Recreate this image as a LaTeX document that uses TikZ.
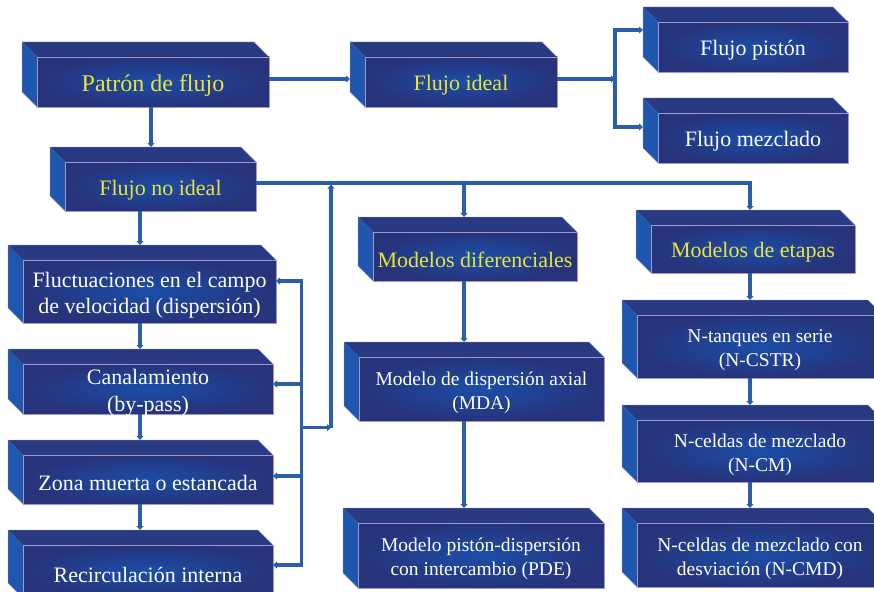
\documentclass[tikz,border=0pt]{standalone}
\usepackage{fontspec}
\setmainfont{Liberation Serif}
\usetikzlibrary{arrows.meta}

\definecolor{fedge}{HTML}{27337A}
\definecolor{fmid}{HTML}{1B4EA8}
\definecolor{topc}{HTML}{2A3A82}
\definecolor{sidec}{HTML}{1F57AE}
\definecolor{rim}{HTML}{9A9ACF}
\definecolor{wire}{HTML}{2A5DAC}
\definecolor{gold}{HTML}{E9E33C}

\tikzset{
  face/.style={rectangle, inner sep=0pt, outer sep=0pt, inner color=fmid,
    outer color=fedge, draw=rim, line width=0.5pt},
  label text/.style={inner sep=0pt, align=center},
  wireline/.style={draw=wire, line width=3.2pt, line cap=rect},
  conn/.style={draw=wire, line width=3.2pt, line join=miter,
    -{Triangle[length=4pt,width=7pt]}},
  big/.style={font=\fontsize{24}{28}\selectfont},
  mid/.style={font=\fontsize{22}{26.5}\selectfont},
  small/.style={font=\fontsize{19.5}{24}\selectfont},
}

% #1 name, #2..#5 front face (x0,y0,x1,y1), #6 text size style, #7 text colour, #8 text
\newcommand\cubebox[8]{%
  \fill[sidec] (#2,#3) -- (#2-15,#3-15) -- (#2-15,#5-15) -- (#2,#5) -- cycle;
  \fill[topc] (#2,#3) -- (#2-15,#3-15) -- (#4-15,#3-15) -- (#4,#3) -- cycle;
  \draw[rim, line width=0.4pt] (#2,#5) -- (#2-15,#5-15) -- (#2-15,#3-15)
    -- (#4-15,#3-15) -- (#4,#3);
  \node[face, minimum width={(#4-#2)*1pt},
    minimum height={(#5-#3)*1pt}] (#1) at ({(#2+#4)/2},{(#3+#5)/2}) {};
  \node[label text, #6, text=#7] (#1-text) at ([yshift=-3.5pt]#1.center) {#8};
  \coordinate (#1-n) at ({(#2+#4)/2},{#3-15});
  \coordinate (#1-w) at ({#2-15},{(#3+#5)/2});
}

\begin{document}
\begin{tikzpicture}[x=1pt, y=-1pt]
\clip (0,0) rectangle (874,591);
\fill[white] (0,0) rectangle (874,591);

% blocks
\cubebox{patron}{37}{57}{269}{107}{big}{gold}{Patrón de flujo}
\cubebox{ideal}{365}{57}{557}{107}{mid}{gold}{Flujo ideal}
\cubebox{piston}{658}{22}{848}{72}{mid}{white}{Flujo pistón}
\cubebox{mezclado}{658}{113}{848}{163}{mid}{white}{Flujo mezclado}
\cubebox{noideal}{65}{162}{256}{211}{mid}{gold}{Flujo no ideal}
\cubebox{fluct}{23}{260}{276}{323}{mid}{white}{Fluctuaciones en el campo\\de velocidad (dispersión)}
\cubebox{canal}{23}{364}{273}{414}{mid}{white}{Canalamiento\\(by-pass)}
\cubebox{zona}{23}{455}{273}{504}{mid}{white}{Zona muerta o estancada}
\cubebox{recirc}{23}{545}{273}{598}{mid}{white}{Recirculación interna}
\cubebox{difer}{373}{232}{577}{281}{mid}{gold}{Modelos diferenciales}
\cubebox{mda}{359}{357}{604}{421}{small}{white}{Modelo de dispersión axial\\(MDA)}
\cubebox{pde}{358}{523}{604}{588}{small}{white}{Modelo pistón-dispersión\\con intercambio (PDE)}
\cubebox{etapas}{651}{225}{855}{273}{mid}{gold}{Modelos de etapas}
\cubebox{tanques}{637}{315}{883}{378}{small}{white}{N-tanques en serie\\(N-CSTR)}
\cubebox{celdas}{637}{420}{883}{482}{small}{white}{N-celdas de mezclado\\(N-CM)}
\cubebox{desv}{637}{523}{883}{587}{small}{white}{N-celdas de mezclado con\\desviación (N-CMD)}

% junctions and column lines
\coordinate (jI) at (615,79);
\coordinate (jIa) at (615,30);
\coordinate (jIb) at (615,127);
\coordinate (colP) at (151,0);
\coordinate (colL) at (140,0);
\coordinate (h1) at (331,183);
\coordinate (h2) at (464,183);
\coordinate (h3) at (750,183);
\coordinate (fb1) at (301.7,281);
\coordinate (fb2) at (301.7,384);
\coordinate (fb3) at (301.7,476);
\coordinate (fb4) at (301.7,565);
\coordinate (fbA) at (301.7,427.7);

% ideal flow branch
\draw[conn] (patron.east |- jI) -- (ideal-w |- jI);
\draw[conn] (ideal.east |- jI) -- (jI);
\draw[conn] (jI) |- (piston-w |- jIa);
\draw[conn] (jI) |- (mezclado-w |- jIb);

% non-ideal flow branch
\draw[conn] (patron.south -| colP) -- (noideal-n -| colP);
\draw[conn] (noideal.east |- h1) -| (h3 |- etapas-n);
\draw[conn] (h2) -- (h2 |- difer-n);

% left column
\draw[conn] (noideal.south -| colL) -- (fluct-n -| colL);
\draw[conn] (fluct.south -| colL) -- (canal-n -| colL);
\draw[conn] (canal.south -| colL) -- (zona-n -| colL);
\draw[conn] (zona.south -| colL) -- (recirc-n -| colL);

% feedback bus of the left column
\draw[conn] (fb2) |- (fluct.east |- fb1);
\draw[conn] (fb3) |- (recirc.east |- fb4);
\draw[wireline] (fb2) -- (fb3);
\draw[conn] (fb2) -- (canal.east |- fb2);
\draw[conn] (fb3) -- (zona.east |- fb3);
\draw[conn] (fbA) -- (fbA -| h1);
\draw[conn] (fbA -| h1) -- ([yshift=-1.6pt]h1);

% middle column
\draw[conn] (difer.south -| h2) -- (mda-n -| h2);
\draw[conn] (mda.south -| h2) -- (pde-n -| h2);

% right column
\draw[conn] (etapas.south -| h3) -- (tanques-n -| h3);
\draw[conn] (tanques.south -| h3) -- (celdas-n -| h3);
\draw[conn] (celdas.south -| h3) -- (desv-n -| h3);
\end{tikzpicture}
\end{document}
